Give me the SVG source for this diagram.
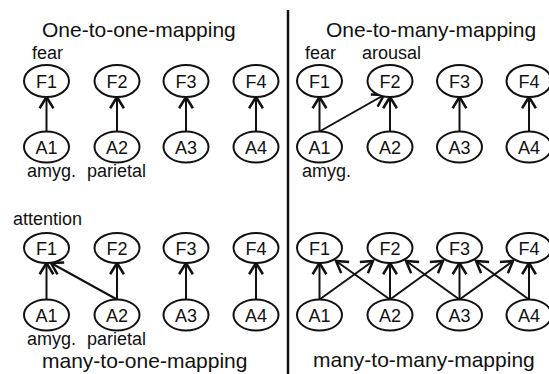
<svg xmlns="http://www.w3.org/2000/svg" width="549" height="374" viewBox="0 0 549 374">
<defs>
<marker id="arr" markerUnits="userSpaceOnUse" markerWidth="20" markerHeight="20" viewBox="-12 -8 14 16" refX="0" refY="0" orient="auto">
<path d="M-9,-5.5 L0,0 L-9,5.5" fill="none" stroke="#111" stroke-width="2"/>
</marker>
<style>
.n ellipse{fill:#fff;stroke:#111;stroke-width:2}
.n text{font-family:"Liberation Sans",Arial,sans-serif;font-size:18px;text-anchor:middle;fill:#111}
.t{font-family:"Liberation Sans",Arial,sans-serif;font-size:21px;fill:#111}
.l{font-family:"Liberation Sans",Arial,sans-serif;font-size:18px;fill:#111}
#edges line{stroke:#111;stroke-width:2;marker-end:url(#arr)}
</style>
</defs>
<rect width="549" height="374" fill="#fff"/>
<line x1="288" y1="10" x2="288" y2="374" stroke="#111" stroke-width="2.5"/>
<text class="t" x="42" y="37">One-to-one-mapping</text>
<text class="t" x="326" y="37">One-to-many-mapping</text>
<text class="t" x="42" y="368">many-to-one-mapping</text>
<text class="t" x="313" y="367">many-to-many-mapping</text>
<text class="l" x="32" y="59">fear</text>
<text class="l" x="305" y="59">fear</text>
<text class="l" x="362" y="59">arousal</text>
<text class="l" x="27" y="177">amyg.</text>
<text class="l" x="87" y="177">parietal</text>
<text class="l" x="302" y="177">amyg.</text>
<text class="l" x="13" y="225">attention</text>
<text class="l" x="27" y="345">amyg.</text>
<text class="l" x="87" y="345">parietal</text>
<g id="edges">
<line x1="46.5" y1="131.5" x2="46.5" y2="97"/>
<line x1="117" y1="131.5" x2="117" y2="97"/>
<line x1="186" y1="131.5" x2="186" y2="97"/>
<line x1="256" y1="131.5" x2="256" y2="97"/>
<line x1="319.5" y1="131.5" x2="319.5" y2="97"/>
<line x1="319.5" y1="131.5" x2="384" y2="95"/>
<line x1="390" y1="131.5" x2="390" y2="97"/>
<line x1="459.5" y1="131.5" x2="459.5" y2="97"/>
<line x1="529" y1="131.5" x2="529" y2="97"/>
<line x1="46.5" y1="299.5" x2="46.5" y2="263"/>
<line x1="117" y1="299.5" x2="51" y2="263"/>
<line x1="117" y1="299.5" x2="117" y2="263"/>
<line x1="186" y1="299.5" x2="186" y2="263"/>
<line x1="256" y1="299.5" x2="256" y2="263"/>
<line x1="319.5" y1="299.5" x2="319.5" y2="263"/>
<line x1="319.5" y1="299.5" x2="373" y2="261"/>
<line x1="390" y1="299.5" x2="336" y2="261"/>
<line x1="390" y1="299.5" x2="390" y2="263"/>
<line x1="390" y1="299.5" x2="443" y2="261"/>
<line x1="459.5" y1="299.5" x2="406" y2="261"/>
<line x1="459.5" y1="299.5" x2="459.5" y2="263"/>
<line x1="459.5" y1="299.5" x2="513" y2="261"/>
<line x1="529" y1="299.5" x2="476" y2="261"/>
<line x1="529" y1="299.5" x2="529" y2="263"/>
</g>
<g id="tl-F1" class="n"><ellipse cx="46.5" cy="81" rx="22.5" ry="16"/><text x="46.5" y="87.5">F1</text></g>
<g id="tl-F2" class="n"><ellipse cx="117" cy="81" rx="22.5" ry="16"/><text x="117" y="87.5">F2</text></g>
<g id="tl-F3" class="n"><ellipse cx="186" cy="81" rx="22.5" ry="16"/><text x="186" y="87.5">F3</text></g>
<g id="tl-F4" class="n"><ellipse cx="256" cy="81" rx="22.5" ry="16"/><text x="256" y="87.5">F4</text></g>
<g id="tl-A1" class="n"><ellipse cx="46.5" cy="147" rx="22.5" ry="15.5"/><text x="46.5" y="153.5">A1</text></g>
<g id="tl-A2" class="n"><ellipse cx="117" cy="147" rx="22.5" ry="15.5"/><text x="117" y="153.5">A2</text></g>
<g id="tl-A3" class="n"><ellipse cx="186" cy="147" rx="22.5" ry="15.5"/><text x="186" y="153.5">A3</text></g>
<g id="tl-A4" class="n"><ellipse cx="256" cy="147" rx="22.5" ry="15.5"/><text x="256" y="153.5">A4</text></g>
<g id="tr-F1" class="n"><ellipse cx="319.5" cy="81" rx="22.5" ry="16"/><text x="319.5" y="87.5">F1</text></g>
<g id="tr-F2" class="n"><ellipse cx="390" cy="81" rx="22.5" ry="16"/><text x="390" y="87.5">F2</text></g>
<g id="tr-F3" class="n"><ellipse cx="459.5" cy="81" rx="22.5" ry="16"/><text x="459.5" y="87.5">F3</text></g>
<g id="tr-F4" class="n"><ellipse cx="529" cy="81" rx="22.5" ry="16"/><text x="529" y="87.5">F4</text></g>
<g id="tr-A1" class="n"><ellipse cx="319.5" cy="147" rx="22.5" ry="15.5"/><text x="319.5" y="153.5">A1</text></g>
<g id="tr-A2" class="n"><ellipse cx="390" cy="147" rx="22.5" ry="15.5"/><text x="390" y="153.5">A2</text></g>
<g id="tr-A3" class="n"><ellipse cx="459.5" cy="147" rx="22.5" ry="15.5"/><text x="459.5" y="153.5">A3</text></g>
<g id="tr-A4" class="n"><ellipse cx="529" cy="147" rx="22.5" ry="15.5"/><text x="529" y="153.5">A4</text></g>
<g id="bl-F1" class="n"><ellipse cx="46.5" cy="248" rx="22.5" ry="15"/><text x="46.5" y="254.5">F1</text></g>
<g id="bl-F2" class="n"><ellipse cx="117" cy="248" rx="22.5" ry="15"/><text x="117" y="254.5">F2</text></g>
<g id="bl-F3" class="n"><ellipse cx="186" cy="248" rx="22.5" ry="15"/><text x="186" y="254.5">F3</text></g>
<g id="bl-F4" class="n"><ellipse cx="256" cy="248" rx="22.5" ry="15"/><text x="256" y="254.5">F4</text></g>
<g id="bl-A1" class="n"><ellipse cx="46.5" cy="315" rx="22.5" ry="15.5"/><text x="46.5" y="321.5">A1</text></g>
<g id="bl-A2" class="n"><ellipse cx="117" cy="315" rx="22.5" ry="15.5"/><text x="117" y="321.5">A2</text></g>
<g id="bl-A3" class="n"><ellipse cx="186" cy="315" rx="22.5" ry="15.5"/><text x="186" y="321.5">A3</text></g>
<g id="bl-A4" class="n"><ellipse cx="256" cy="315" rx="22.5" ry="15.5"/><text x="256" y="321.5">A4</text></g>
<g id="br-F1" class="n"><ellipse cx="319.5" cy="248" rx="22.5" ry="15"/><text x="319.5" y="254.5">F1</text></g>
<g id="br-F2" class="n"><ellipse cx="390" cy="248" rx="22.5" ry="15"/><text x="390" y="254.5">F2</text></g>
<g id="br-F3" class="n"><ellipse cx="459.5" cy="248" rx="22.5" ry="15"/><text x="459.5" y="254.5">F3</text></g>
<g id="br-F4" class="n"><ellipse cx="529" cy="248" rx="22.5" ry="15"/><text x="529" y="254.5">F4</text></g>
<g id="br-A1" class="n"><ellipse cx="319.5" cy="315" rx="22.5" ry="15.5"/><text x="319.5" y="321.5">A1</text></g>
<g id="br-A2" class="n"><ellipse cx="390" cy="315" rx="22.5" ry="15.5"/><text x="390" y="321.5">A2</text></g>
<g id="br-A3" class="n"><ellipse cx="459.5" cy="315" rx="22.5" ry="15.5"/><text x="459.5" y="321.5">A3</text></g>
<g id="br-A4" class="n"><ellipse cx="529" cy="315" rx="22.5" ry="15.5"/><text x="529" y="321.5">A4</text></g>
</svg>
